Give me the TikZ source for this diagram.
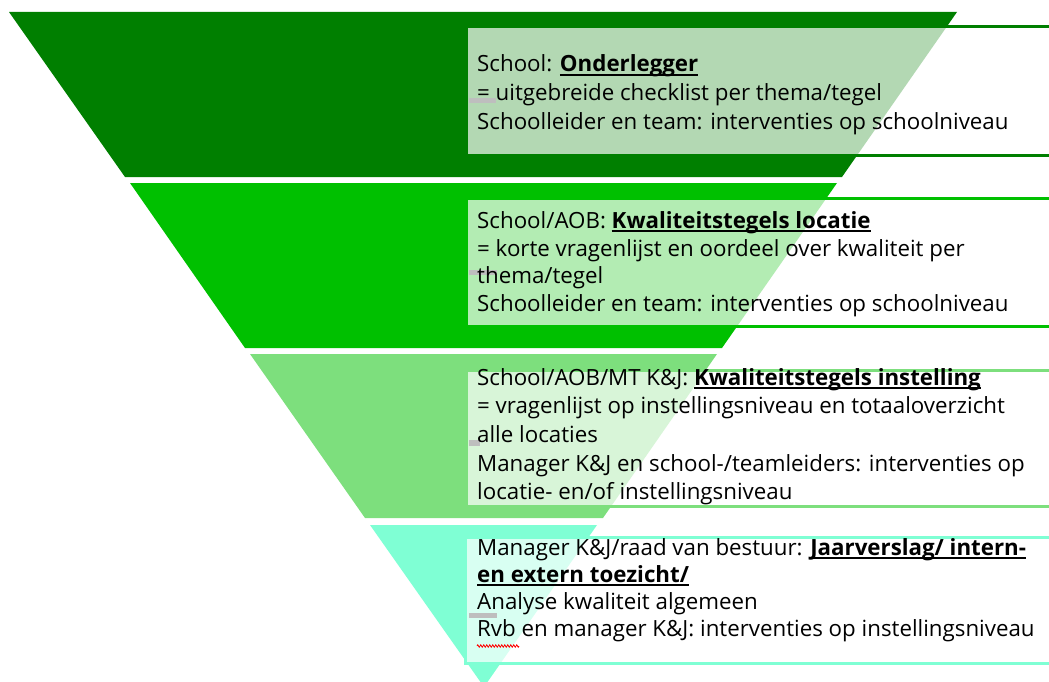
\documentclass[tikz,border=0pt]{standalone}
\usepackage{fontspec}
\setmainfont{Open Sans}
\usetikzlibrary{decorations.pathmorphing}
\definecolor{tone}{HTML}{007F00}
\definecolor{ttwo}{HTML}{00C000}
\definecolor{tthree}{HTML}{7DDF7D}
\definecolor{tfour}{HTML}{7FFFD4}
\definecolor{markgray}{HTML}{BEBEBE}
\tikzset{
  tier/.style={fill=#1, draw=none},
  infobox/.style={draw=#1, line width=3pt, fill=white, fill opacity=0.7, draw opacity=1},
  infotext/.style={anchor=base west, inner sep=0pt, text=black,
    font=\fontsize{22.3}{27}\selectfont},
  pmark/.style={fill=markgray, draw=none}
}
\newcommand{\hl}[1]{\setbox0\hbox{\textbf{#1}}\rlap{\rule[-3.6pt]{\wd0}{1.6pt}}\box0}
\begin{document}
\begin{tikzpicture}[x=1pt,y=-1pt]
\useasboundingbox (0,0) rectangle (1049,682);
\clip (0,0) rectangle (1049,682);
% tiers
\fill[tier=tone]   (9,12) -- (957,12) -- (842,177) -- (125,177) -- cycle;
\fill[tier=ttwo]   (130,183) -- (837,183) -- (722,348) -- (245,348) -- cycle;
\fill[tier=tthree] (250,354) -- (717,354) -- (603,518) -- (365,518) -- cycle;
\fill[tier=tfour]  (370,525) -- (597,525) -- (484,687) -- cycle;
% boxes
\draw[infobox=tone]   (466,27)  rectangle (1065,155);
\draw[infobox=ttwo]   (466,198) rectangle (1065,326);
\draw[infobox=tthree] (466,370) rectangle (1065,506);
\draw[infobox=tfour]  (465,537) rectangle (1065,663);
% paragraph marks
\fill[pmark] (469,98) rectangle (496,103);
\fill[pmark] (469,270) rectangle (497,275);
\fill[pmark] (469,440) rectangle (480,446);
\fill[pmark] (469,613) rectangle (497,618);
% texts box 1
\node[infotext] (t1a) at (477,72)    {School: \hl{Onderlegger}};
\node[infotext] (t1b) at (477,100.5) {= uitgebreide checklist per thema/tegel};
\node[infotext] (t1c) at (477,129)   {Schoolleider en team: interventies op schoolniveau};
% texts box 2
\node[infotext] (t2a) at (477,228)   {School/AOB: \hl{Kwaliteitstegels locatie}};
\node[infotext] (t2b) at (477,256)   {= korte vragenlijst en oordeel over kwaliteit per};
\node[infotext] (t2c) at (477,283.5) {thema/tegel};
\node[infotext] (t2d) at (477,311)   {Schoolleider en team: interventies op schoolniveau};
% texts box 3
\node[infotext] (t3a) at (477,385)   {School/AOB/MT K\&J: \hl{Kwaliteitstegels instelling}};
\node[infotext] (t3b) at (477,413.5) {= vragenlijst op instellingsniveau en totaaloverzicht};
\node[infotext] (t3c) at (477,442)   {alle locaties};
\node[infotext] (t3d) at (477,471)   {Manager K\&J en school-/teamleiders: interventies op};
\node[infotext] (t3e) at (477,499.5) {locatie- en/of instellingsniveau};
% texts box 4
\node[infotext] (t4a) at (477,555)   {Manager K\&J/raad van bestuur: \hl{Jaarverslag/ intern-}};
\node[infotext] (t4b) at (477,582)   {\hl{en extern toezicht/}};
\node[infotext] (t4c) at (477,609.5) {Analyse kwaliteit algemeen};
\node[infotext] (t4d) at (477,636)   {Rvb en manager K\&J: interventies op instellingsniveau};
% spelling squiggle
\draw[red, line width=0.8pt, decorate, decoration={zigzag, amplitude=1.2pt, segment length=3pt}] (477,646) -- (519,646);
\end{tikzpicture}
\end{document}
